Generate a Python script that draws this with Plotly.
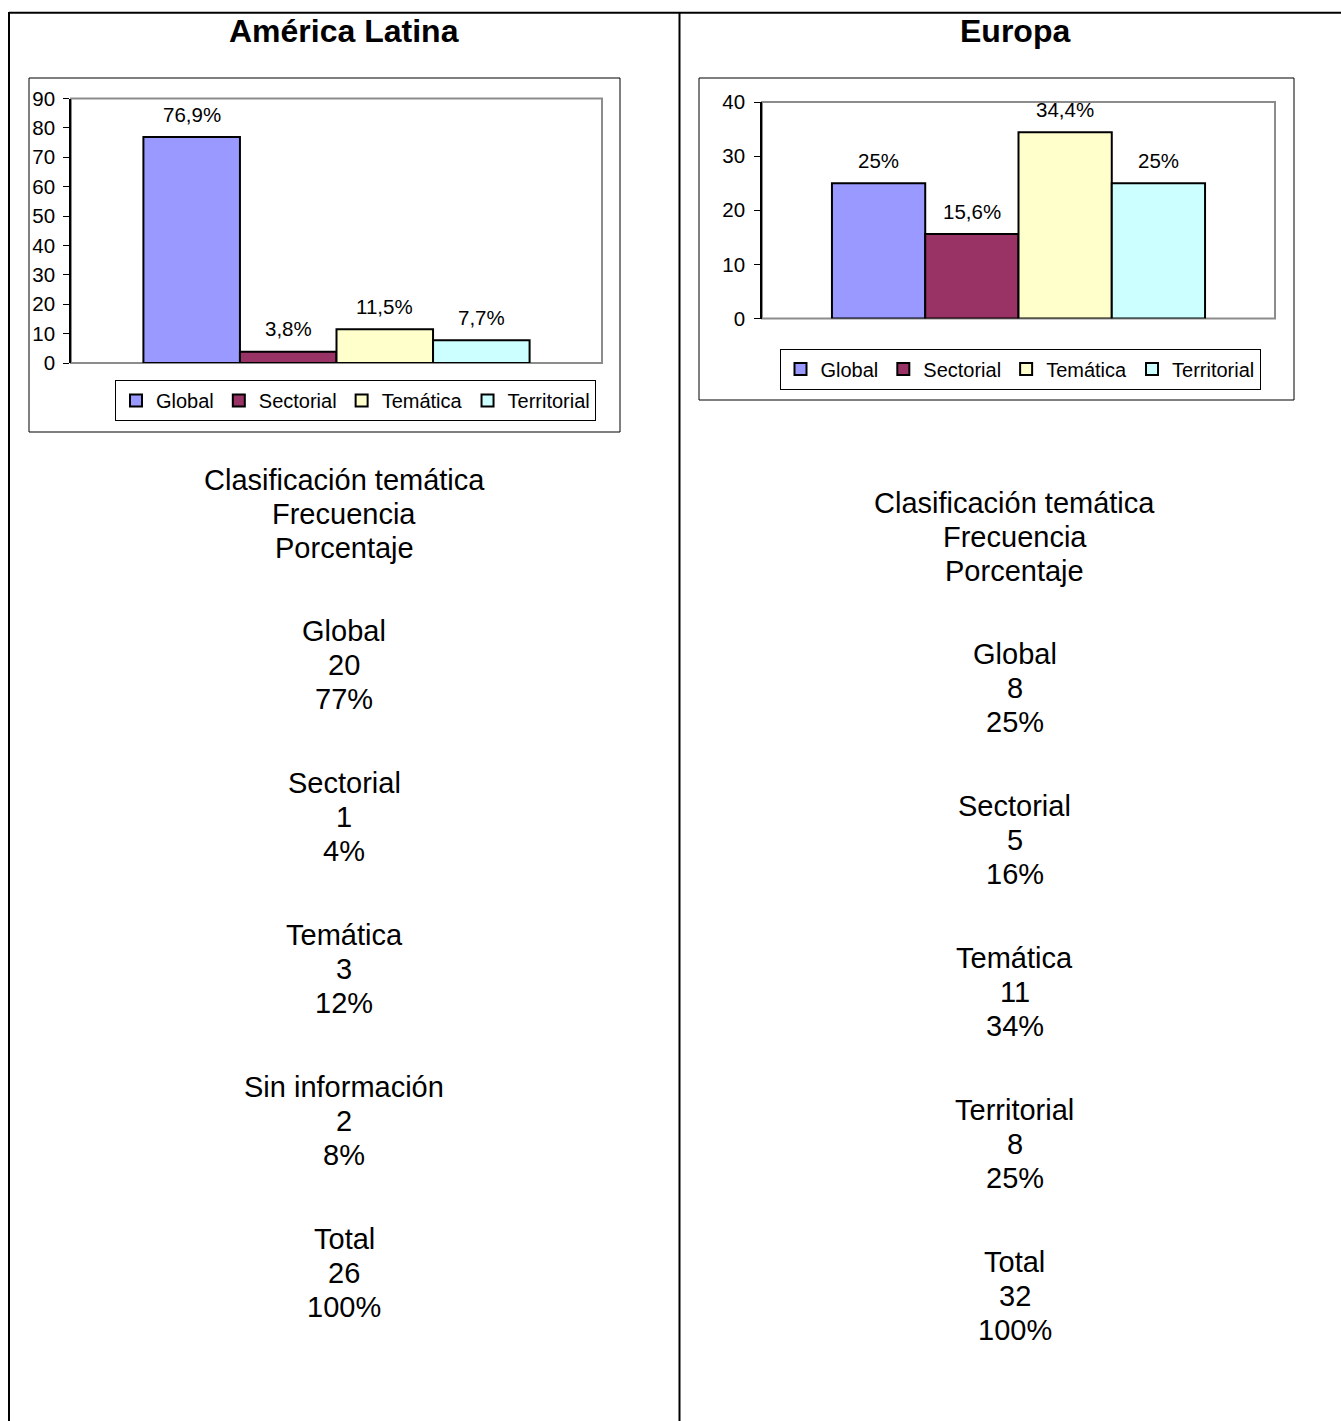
import plotly.graph_objects as go

# ---- data -------------------------------------------------------------
regions = ["América Latina", "Europa"]
categories = ["Global", "Sectorial", "Temática", "Territorial"]
colors = ["#9999FF", "#993366", "#FFFFCC", "#CCFFFF"]

la_pct = [76.9, 3.8, 11.5, 7.7]
eu_pct = [25, 15.6, 34.4, 25]

table_header = ["Clasificación temática", "Frecuencia", "Porcentaje"]
la_rows = ["Global", "Sectorial", "Temática", "Sin información", "Total"]
la_freq = [20, 1, 3, 2, 26]
la_share = ["77%", "4%", "12%", "8%", "100%"]
eu_rows = ["Global", "Sectorial", "Temática", "Territorial", "Total"]
eu_freq = [8, 5, 11, 8, 32]
eu_share = ["25%", "16%", "34%", "25%", "100%"]

# ---- page geometry (pixels) ------------------------------------------
W, H = 1341, 1421
FONT = "Liberation Sans, Arial, Helvetica, sans-serif"


def px(x):
    return x / W


def py(y):
    return 1 - y / H


def pct_label(v):
    s = f"{v:.1f}"
    if s.endswith(".0"):
        s = s[:-2]
    return s.replace(".", ",") + "%"


fig = go.Figure()

panels = [
    dict(values=la_pct, xa="x", ya="y", legend="legend",
         plot=(71, 602, 98.5, 363), ymax=90, box=(29, 78, 620, 432),
         leg=(355.5, 400.5), standoff=4),
    dict(values=eu_pct, xa="x2", ya="y2", legend="legend2",
         plot=(762, 1275, 102, 318.5), ymax=40, box=(699, 78, 1294, 400),
         leg=(1020, 369), standoff=5),
]

layout_axes = {}
shapes = []
annotations = []

for i, p in enumerate(panels):
    for cat, val, col in zip(categories, p["values"], colors):
        fig.add_trace(go.Bar(
            x=[cat], y=[val], name=cat, width=1,
            marker=dict(color=col, line=dict(color="black", width=2)),
            xaxis=p["xa"], yaxis=p["ya"], legend=p["legend"],
            hoverinfo="skip",
        ))
        annotations.append(dict(
            x=cat, y=val, xref=p["xa"], yref=p["ya"], text=pct_label(val),
            showarrow=False, yanchor="middle", yshift=23,
            font=dict(family=FONT, size=20.5, color="black"),
        ))

    x0, x1, y0, y1 = p["plot"]
    suffix = "" if i == 0 else str(i + 1)
    layout_axes["xaxis" + suffix] = dict(
        domain=[px(x0), px(x1)], anchor="y" + suffix,
        type="category", categoryorder="array", categoryarray=categories,
        range=[-1.25, 4.25], showticklabels=False, ticks="",
        showgrid=False, zeroline=False, showline=False, fixedrange=True,
        automargin=False,
    )
    layout_axes["yaxis" + suffix] = dict(
        domain=[py(y1), py(y0)], anchor="x" + suffix,
        range=[0, p["ymax"]], dtick=10, tick0=0,
        showgrid=False, zeroline=False,
        showline=True, linecolor="black", linewidth=1.5,
        ticks="outside", ticklen=6, tickwidth=1, tickcolor="black",
        ticklabelstandoff=p["standoff"],
        tickfont=dict(family=FONT, size=20.5, color="black"),
        fixedrange=True, automargin=False,
    )
    # grey plot-area frame
    shapes.append(dict(
        type="rect", xref="x" + suffix + " domain", yref="y" + suffix + " domain",
        x0=0, x1=1, y0=0, y1=1, line=dict(color="#8c8c8c", width=2),
        layer="below",
    ))
    # chart outer box
    bx0, by0, bx1, by1 = p["box"]
    shapes.append(dict(
        type="rect", xref="paper", yref="paper",
        x0=px(bx0), x1=px(bx1), y0=py(by1), y1=py(by0),
        line=dict(color="black", width=1),
    ))
    lx, ly = p["leg"]
    layout_axes[p["legend"]] = dict(
        x=px(lx), y=py(ly), xanchor="center", yanchor="middle",
        orientation="h", bgcolor="white", bordercolor="black",
        borderwidth=1, font=dict(family=FONT, size=20, color="black"),
        traceorder="normal", itemclick=False, itemdoubleclick=False,
    )

# ---- table frame -------------------------------------------------------
line_style = dict(color="black", width=2)
shapes += [
    dict(type="line", xref="paper", yref="paper", x0=px(9), x1=1,
         y0=py(12.8), y1=py(12.8), line=line_style),
    dict(type="line", xref="paper", yref="paper", x0=px(9), x1=px(9),
         y0=py(12), y1=0, line=line_style),
    dict(type="line", xref="paper", yref="paper", x0=px(679.5), x1=px(679.5),
         y0=py(12), y1=0, line=line_style),
]

# ---- column titles and text blocks -----------------------------------
columns = [
    dict(cx=344, top=480, rows=la_rows, freq=la_freq, share=la_share),
    dict(cx=1015, top=503, rows=eu_rows, freq=eu_freq, share=eu_share),
]

for region, col in zip(regions, columns):
    annotations.append(dict(
        x=px(col["cx"]), y=py(31), xref="paper", yref="paper",
        text=f"<b>{region}</b>", showarrow=False,
        xanchor="center", yanchor="middle",
        font=dict(family=FONT, size=32, color="black"),
    ))
    lines = [(col["top"] + k * 34, t) for k, t in enumerate(table_header)]
    for g, (name, f, s) in enumerate(zip(col["rows"], col["freq"], col["share"])):
        base = col["top"] + 151 + g * 152
        for k, t in enumerate([name, str(f), s]):
            lines.append((base + k * 34, t))
    for yy, t in lines:
        annotations.append(dict(
            x=px(col["cx"]), y=py(yy), xref="paper", yref="paper",
            text=t, showarrow=False, xanchor="center", yanchor="middle",
            font=dict(family=FONT, size=29, color="black"),
        ))

fig.update_layout(
    width=W, height=H,
    margin=dict(l=0, r=0, t=0, b=0, pad=0, autoexpand=False),
    paper_bgcolor="white", plot_bgcolor="white",
    barmode="overlay", showlegend=True,
    shapes=shapes, annotations=annotations,
    font=dict(family=FONT, color="black"),
    **layout_axes,
)

fig.write_html("out.html", config={"displayModeBar": False})
